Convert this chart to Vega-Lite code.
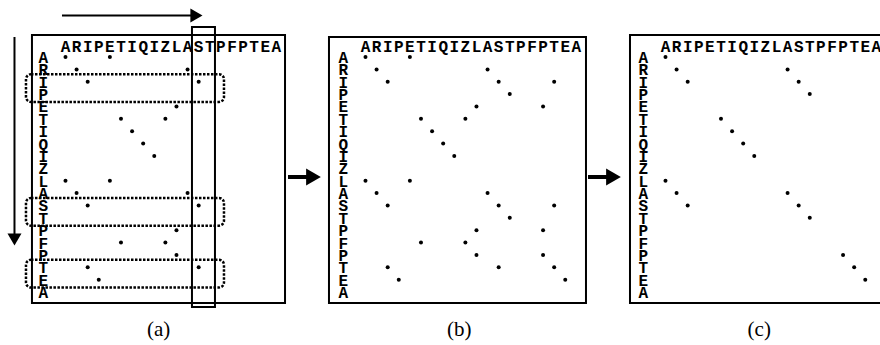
{
  "$schema": "https://vega.github.io/schema/vega-lite/v6.json",
  "padding": 0,
  "spacing": 0,
  "bounds": "flush",
  "background": "white",
  "config": {"view": {"stroke": null}, "axis": {"disable": true}},
  "datasets": {
    "seq": [
      {"i": 1, "aa": "A"}, {"i": 2, "aa": "R"}, {"i": 3, "aa": "I"}, {"i": 4, "aa": "P"},
      {"i": 5, "aa": "E"}, {"i": 6, "aa": "T"}, {"i": 7, "aa": "I"}, {"i": 8, "aa": "Q"},
      {"i": 9, "aa": "I"}, {"i": 10, "aa": "Z"}, {"i": 11, "aa": "L"}, {"i": 12, "aa": "A"},
      {"i": 13, "aa": "S"}, {"i": 14, "aa": "T"}, {"i": 15, "aa": "P"}, {"i": 16, "aa": "F"},
      {"i": 17, "aa": "P"}, {"i": 18, "aa": "T"}, {"i": 19, "aa": "E"}, {"i": 20, "aa": "A"}
    ],
    "dots": [
      {"panel": "a", "row": 1, "col": 1}, {"panel": "a", "row": 1, "col": 5},
      {"panel": "a", "row": 2, "col": 2}, {"panel": "a", "row": 2, "col": 12},
      {"panel": "a", "row": 3, "col": 3}, {"panel": "a", "row": 3, "col": 13},
      {"panel": "a", "row": 5, "col": 11},
      {"panel": "a", "row": 6, "col": 6}, {"panel": "a", "row": 6, "col": 10},
      {"panel": "a", "row": 7, "col": 7}, {"panel": "a", "row": 8, "col": 8}, {"panel": "a", "row": 9, "col": 9},
      {"panel": "a", "row": 11, "col": 1}, {"panel": "a", "row": 11, "col": 5},
      {"panel": "a", "row": 12, "col": 2}, {"panel": "a", "row": 12, "col": 12},
      {"panel": "a", "row": 13, "col": 3}, {"panel": "a", "row": 13, "col": 13},
      {"panel": "a", "row": 15, "col": 11},
      {"panel": "a", "row": 16, "col": 6}, {"panel": "a", "row": 16, "col": 10},
      {"panel": "a", "row": 17, "col": 11},
      {"panel": "a", "row": 18, "col": 3}, {"panel": "a", "row": 18, "col": 13},
      {"panel": "a", "row": 19, "col": 4},
      {"panel": "b", "row": 1, "col": 1}, {"panel": "b", "row": 1, "col": 5},
      {"panel": "b", "row": 2, "col": 2}, {"panel": "b", "row": 2, "col": 12},
      {"panel": "b", "row": 3, "col": 3}, {"panel": "b", "row": 3, "col": 13}, {"panel": "b", "row": 3, "col": 18},
      {"panel": "b", "row": 4, "col": 14},
      {"panel": "b", "row": 5, "col": 11}, {"panel": "b", "row": 5, "col": 17},
      {"panel": "b", "row": 6, "col": 6}, {"panel": "b", "row": 6, "col": 10},
      {"panel": "b", "row": 7, "col": 7}, {"panel": "b", "row": 8, "col": 8}, {"panel": "b", "row": 9, "col": 9},
      {"panel": "b", "row": 11, "col": 1}, {"panel": "b", "row": 11, "col": 5},
      {"panel": "b", "row": 12, "col": 2}, {"panel": "b", "row": 12, "col": 12},
      {"panel": "b", "row": 13, "col": 3}, {"panel": "b", "row": 13, "col": 13}, {"panel": "b", "row": 13, "col": 18},
      {"panel": "b", "row": 14, "col": 14},
      {"panel": "b", "row": 15, "col": 11}, {"panel": "b", "row": 15, "col": 17},
      {"panel": "b", "row": 16, "col": 6}, {"panel": "b", "row": 16, "col": 10},
      {"panel": "b", "row": 17, "col": 11}, {"panel": "b", "row": 17, "col": 17},
      {"panel": "b", "row": 18, "col": 3}, {"panel": "b", "row": 18, "col": 13}, {"panel": "b", "row": 18, "col": 18},
      {"panel": "b", "row": 19, "col": 4}, {"panel": "b", "row": 19, "col": 19},
      {"panel": "c", "row": 1, "col": 1},
      {"panel": "c", "row": 2, "col": 2}, {"panel": "c", "row": 2, "col": 12},
      {"panel": "c", "row": 3, "col": 3}, {"panel": "c", "row": 3, "col": 13},
      {"panel": "c", "row": 4, "col": 14},
      {"panel": "c", "row": 6, "col": 6}, {"panel": "c", "row": 7, "col": 7},
      {"panel": "c", "row": 8, "col": 8}, {"panel": "c", "row": 9, "col": 9},
      {"panel": "c", "row": 11, "col": 1},
      {"panel": "c", "row": 12, "col": 2}, {"panel": "c", "row": 12, "col": 12},
      {"panel": "c", "row": 13, "col": 3}, {"panel": "c", "row": 13, "col": 13},
      {"panel": "c", "row": 14, "col": 14},
      {"panel": "c", "row": 17, "col": 17}, {"panel": "c", "row": 18, "col": 18}, {"panel": "c", "row": 19, "col": 19}
    ],
    "rowBands": [{"first": 3, "last": 4}, {"first": 13, "last": 14}, {"first": 18, "last": 19}],
    "colBand": [{"first": 13, "last": 14}]
  },
  "hconcat": [
    {
      "width": 300,
      "height": 345,
      "layer": [
        {
          "data": {"values": [{}]},
          "mark": {"type": "rect", "filled": false, "color": "black", "strokeWidth": 2},
          "encoding": {
            "x": {"datum": -2.02, "type": "quantitative", "scale": {"domain": [-4.9, 22.13], "nice": false, "zero": false}},
            "x2": {"datum": 20.78},
            "y": {"datum": -0.778, "type": "quantitative", "scale": {"domain": [-3.608, 24.28], "nice": false, "zero": false, "reverse": true}},
            "y2": {"datum": 20.885}
          }
        },
        {
          "data": {"name": "seq"},
          "mark": {"type": "text", "font": "Liberation Mono", "fontWeight": "bold", "fontSize": 16, "align": "center", "baseline": "alphabetic", "color": "black"},
          "encoding": {
            "x": {"field": "i", "type": "quantitative", "scale": {"domain": [-4.9, 22.13], "nice": false, "zero": false}},
            "y": {"datum": 0.6, "type": "quantitative", "scale": {"domain": [-3.608, 24.28], "nice": false, "zero": false, "reverse": true}},
            "text": {"field": "aa"}
          }
        },
        {
          "data": {"name": "seq"},
          "mark": {"type": "text", "font": "Liberation Mono", "fontWeight": "bold", "fontSize": 16, "align": "center", "baseline": "alphabetic", "dy": 6, "color": "black"},
          "encoding": {
            "x": {"datum": -1, "type": "quantitative", "scale": {"domain": [-4.9, 22.13], "nice": false, "zero": false}},
            "y": {"field": "i", "type": "quantitative", "scale": {"domain": [-3.608, 24.28], "nice": false, "zero": false, "reverse": true}},
            "text": {"field": "aa"}
          }
        },
        {
          "data": {"name": "dots"},
          "transform": [{"filter": "datum.panel === 'a'"}],
          "mark": {"type": "circle", "size": 16, "color": "black", "opacity": 1},
          "encoding": {
            "x": {"field": "col", "type": "quantitative", "scale": {"domain": [-4.9, 22.13], "nice": false, "zero": false}},
            "y": {"field": "row", "type": "quantitative", "scale": {"domain": [-3.608, 24.28], "nice": false, "zero": false, "reverse": true}}
          }
        },
        {
          "data": {"name": "colBand"},
          "mark": {"type": "rect", "filled": false, "color": "black", "strokeWidth": 2, "xOffset": -6.7, "x2Offset": 5.2},
          "encoding": {
            "x": {"field": "first", "type": "quantitative", "scale": {"domain": [-4.9, 22.13], "nice": false, "zero": false}},
            "x2": {"field": "last"},
            "y": {"datum": -1.425, "type": "quantitative", "scale": {"domain": [-3.608, 24.28], "nice": false, "zero": false, "reverse": true}},
            "y2": {"datum": 21.21}
          }
        },
        {
          "data": {"name": "rowBands"},
          "mark": {"type": "rect", "filled": false, "color": "black", "strokeWidth": 2.5, "strokeDash": [2.5, 1.5], "cornerRadius": 5, "yOffset": -7.5, "y2Offset": 7.8},
          "encoding": {
            "x": {"datum": -2.559, "type": "quantitative", "scale": {"domain": [-4.9, 22.13], "nice": false, "zero": false}},
            "x2": {"datum": 15.28},
            "y": {"field": "first", "type": "quantitative", "scale": {"domain": [-3.608, 24.28], "nice": false, "zero": false, "reverse": true}},
            "y2": {"field": "last"}
          }
        },
        {
          "data": {"values": [{}]},
          "mark": {"type": "rule", "color": "black", "strokeWidth": 2},
          "encoding": {
            "x": {"datum": 0.685, "type": "quantitative", "scale": {"domain": [-4.9, 22.13], "nice": false, "zero": false}},
            "x2": {"datum": 12.35},
            "y": {"datum": -2.355, "type": "quantitative", "scale": {"domain": [-3.608, 24.28], "nice": false, "zero": false, "reverse": true}}
          }
        },
        {
          "data": {"values": [{}]},
          "mark": {"type": "point", "shape": "triangle-right", "filled": true, "size": 196, "color": "black", "opacity": 1, "strokeWidth": 0},
          "encoding": {
            "x": {"datum": 12.8, "type": "quantitative", "scale": {"domain": [-4.9, 22.13], "nice": false, "zero": false}},
            "y": {"datum": -2.355, "type": "quantitative", "scale": {"domain": [-3.608, 24.28], "nice": false, "zero": false, "reverse": true}}
          }
        },
        {
          "data": {"values": [{}]},
          "mark": {"type": "rule", "color": "black", "strokeWidth": 2},
          "encoding": {
            "x": {"datum": -3.595, "type": "quantitative", "scale": {"domain": [-4.9, 22.13], "nice": false, "zero": false}},
            "y": {"datum": -0.617, "type": "quantitative", "scale": {"domain": [-3.608, 24.28], "nice": false, "zero": false, "reverse": true}},
            "y2": {"datum": 15.4}
          }
        },
        {
          "data": {"values": [{}]},
          "mark": {"type": "point", "shape": "triangle-down", "filled": true, "size": 196, "color": "black", "opacity": 1, "strokeWidth": 0},
          "encoding": {
            "x": {"datum": -3.595, "type": "quantitative", "scale": {"domain": [-4.9, 22.13], "nice": false, "zero": false}},
            "y": {"datum": 15.75, "type": "quantitative", "scale": {"domain": [-3.608, 24.28], "nice": false, "zero": false, "reverse": true}}
          }
        },
        {
          "data": {"values": [{"label": "(a)"}]},
          "mark": {"type": "text", "font": "Liberation Serif", "fontSize": 21, "align": "center", "baseline": "alphabetic", "color": "black"},
          "encoding": {
            "x": {"datum": 9.4, "type": "quantitative", "scale": {"domain": [-4.9, 22.13], "nice": false, "zero": false}},
            "y": {"datum": 23.55, "type": "quantitative", "scale": {"domain": [-3.608, 24.28], "nice": false, "zero": false, "reverse": true}},
            "text": {"field": "label"}
          }
        }
      ]
    },
    {
      "width": 300,
      "height": 345,
      "layer": [
        {
          "data": {"values": [{}]},
          "mark": {"type": "rect", "filled": false, "color": "black", "strokeWidth": 2},
          "encoding": {
            "x": {"datum": -2.289, "type": "quantitative", "scale": {"domain": [-4.9, 22.13], "nice": false, "zero": false}},
            "x2": {"datum": 20.867},
            "y": {"datum": -0.617, "type": "quantitative", "scale": {"domain": [-3.608, 24.28], "nice": false, "zero": false, "reverse": true}},
            "y2": {"datum": 20.885}
          }
        },
        {
          "data": {"name": "seq"},
          "mark": {"type": "text", "font": "Liberation Mono", "fontWeight": "bold", "fontSize": 16, "align": "center", "baseline": "alphabetic", "color": "black"},
          "encoding": {
            "x": {"field": "i", "type": "quantitative", "scale": {"domain": [-4.9, 22.13], "nice": false, "zero": false}},
            "y": {"datum": 0.6, "type": "quantitative", "scale": {"domain": [-3.608, 24.28], "nice": false, "zero": false, "reverse": true}},
            "text": {"field": "aa"}
          }
        },
        {
          "data": {"name": "seq"},
          "mark": {"type": "text", "font": "Liberation Mono", "fontWeight": "bold", "fontSize": 16, "align": "center", "baseline": "alphabetic", "dy": 6, "color": "black"},
          "encoding": {
            "x": {"datum": -1, "type": "quantitative", "scale": {"domain": [-4.9, 22.13], "nice": false, "zero": false}},
            "y": {"field": "i", "type": "quantitative", "scale": {"domain": [-3.608, 24.28], "nice": false, "zero": false, "reverse": true}},
            "text": {"field": "aa"}
          }
        },
        {
          "data": {"name": "dots"},
          "transform": [{"filter": "datum.panel === 'b'"}],
          "mark": {"type": "circle", "size": 16, "color": "black", "opacity": 1},
          "encoding": {
            "x": {"field": "col", "type": "quantitative", "scale": {"domain": [-4.9, 22.13], "nice": false, "zero": false}},
            "y": {"field": "row", "type": "quantitative", "scale": {"domain": [-3.608, 24.28], "nice": false, "zero": false, "reverse": true}}
          }
        },
        {
          "data": {"values": [{}]},
          "mark": {"type": "rule", "color": "black", "strokeWidth": 4},
          "encoding": {
            "x": {"datum": -5.983, "type": "quantitative", "scale": {"domain": [-4.9, 22.13], "nice": false, "zero": false}},
            "x2": {"datum": -4.1},
            "y": {"datum": 10.7, "type": "quantitative", "scale": {"domain": [-3.608, 24.28], "nice": false, "zero": false, "reverse": true}}
          }
        },
        {
          "data": {"values": [{}]},
          "mark": {"type": "point", "shape": "triangle-right", "filled": true, "size": 289, "color": "black", "opacity": 1, "strokeWidth": 0},
          "encoding": {
            "x": {"datum": -3.685, "type": "quantitative", "scale": {"domain": [-4.9, 22.13], "nice": false, "zero": false}},
            "y": {"datum": 10.7, "type": "quantitative", "scale": {"domain": [-3.608, 24.28], "nice": false, "zero": false, "reverse": true}}
          }
        },
        {
          "data": {"values": [{"label": "(b)"}]},
          "mark": {"type": "text", "font": "Liberation Serif", "fontSize": 21, "align": "center", "baseline": "alphabetic", "color": "black"},
          "encoding": {
            "x": {"datum": 9.45, "type": "quantitative", "scale": {"domain": [-4.9, 22.13], "nice": false, "zero": false}},
            "y": {"datum": 23.55, "type": "quantitative", "scale": {"domain": [-3.608, 24.28], "nice": false, "zero": false, "reverse": true}},
            "text": {"field": "label"}
          }
        }
      ]
    },
    {
      "width": 280,
      "height": 345,
      "layer": [
        {
          "data": {"values": [{}]},
          "mark": {"type": "rect", "filled": false, "color": "black", "strokeWidth": 2, "clip": true},
          "encoding": {
            "x": {"datum": -2.198, "type": "quantitative", "scale": {"domain": [-4.9, 20.327], "nice": false, "zero": false}},
            "x2": {"datum": 21.5},
            "y": {"datum": -0.778, "type": "quantitative", "scale": {"domain": [-3.608, 24.28], "nice": false, "zero": false, "reverse": true}},
            "y2": {"datum": 20.885}
          }
        },
        {
          "data": {"name": "seq"},
          "mark": {"type": "text", "font": "Liberation Mono", "fontWeight": "bold", "fontSize": 16, "align": "center", "baseline": "alphabetic", "color": "black", "clip": true},
          "encoding": {
            "x": {"field": "i", "type": "quantitative", "scale": {"domain": [-4.9, 20.327], "nice": false, "zero": false}},
            "y": {"datum": 0.6, "type": "quantitative", "scale": {"domain": [-3.608, 24.28], "nice": false, "zero": false, "reverse": true}},
            "text": {"field": "aa"}
          }
        },
        {
          "data": {"name": "seq"},
          "mark": {"type": "text", "font": "Liberation Mono", "fontWeight": "bold", "fontSize": 16, "align": "center", "baseline": "alphabetic", "dy": 6, "color": "black"},
          "encoding": {
            "x": {"datum": -1, "type": "quantitative", "scale": {"domain": [-4.9, 20.327], "nice": false, "zero": false}},
            "y": {"field": "i", "type": "quantitative", "scale": {"domain": [-3.608, 24.28], "nice": false, "zero": false, "reverse": true}},
            "text": {"field": "aa"}
          }
        },
        {
          "data": {"name": "dots"},
          "transform": [{"filter": "datum.panel === 'c'"}],
          "mark": {"type": "circle", "size": 16, "color": "black", "opacity": 1},
          "encoding": {
            "x": {"field": "col", "type": "quantitative", "scale": {"domain": [-4.9, 20.327], "nice": false, "zero": false}},
            "y": {"field": "row", "type": "quantitative", "scale": {"domain": [-3.608, 24.28], "nice": false, "zero": false, "reverse": true}}
          }
        },
        {
          "data": {"values": [{}]},
          "mark": {"type": "rule", "color": "black", "strokeWidth": 4},
          "encoding": {
            "x": {"datum": -5.983, "type": "quantitative", "scale": {"domain": [-4.9, 20.327], "nice": false, "zero": false}},
            "x2": {"datum": -4.1},
            "y": {"datum": 10.7, "type": "quantitative", "scale": {"domain": [-3.608, 24.28], "nice": false, "zero": false, "reverse": true}}
          }
        },
        {
          "data": {"values": [{}]},
          "mark": {"type": "point", "shape": "triangle-right", "filled": true, "size": 289, "color": "black", "opacity": 1, "strokeWidth": 0},
          "encoding": {
            "x": {"datum": -3.685, "type": "quantitative", "scale": {"domain": [-4.9, 20.327], "nice": false, "zero": false}},
            "y": {"datum": 10.7, "type": "quantitative", "scale": {"domain": [-3.608, 24.28], "nice": false, "zero": false, "reverse": true}}
          }
        },
        {
          "data": {"values": [{"label": "(c)"}]},
          "mark": {"type": "text", "font": "Liberation Serif", "fontSize": 21, "align": "center", "baseline": "alphabetic", "color": "black"},
          "encoding": {
            "x": {"datum": 9.45, "type": "quantitative", "scale": {"domain": [-4.9, 20.327], "nice": false, "zero": false}},
            "y": {"datum": 23.55, "type": "quantitative", "scale": {"domain": [-3.608, 24.28], "nice": false, "zero": false, "reverse": true}},
            "text": {"field": "label"}
          }
        }
      ]
    }
  ]
}
